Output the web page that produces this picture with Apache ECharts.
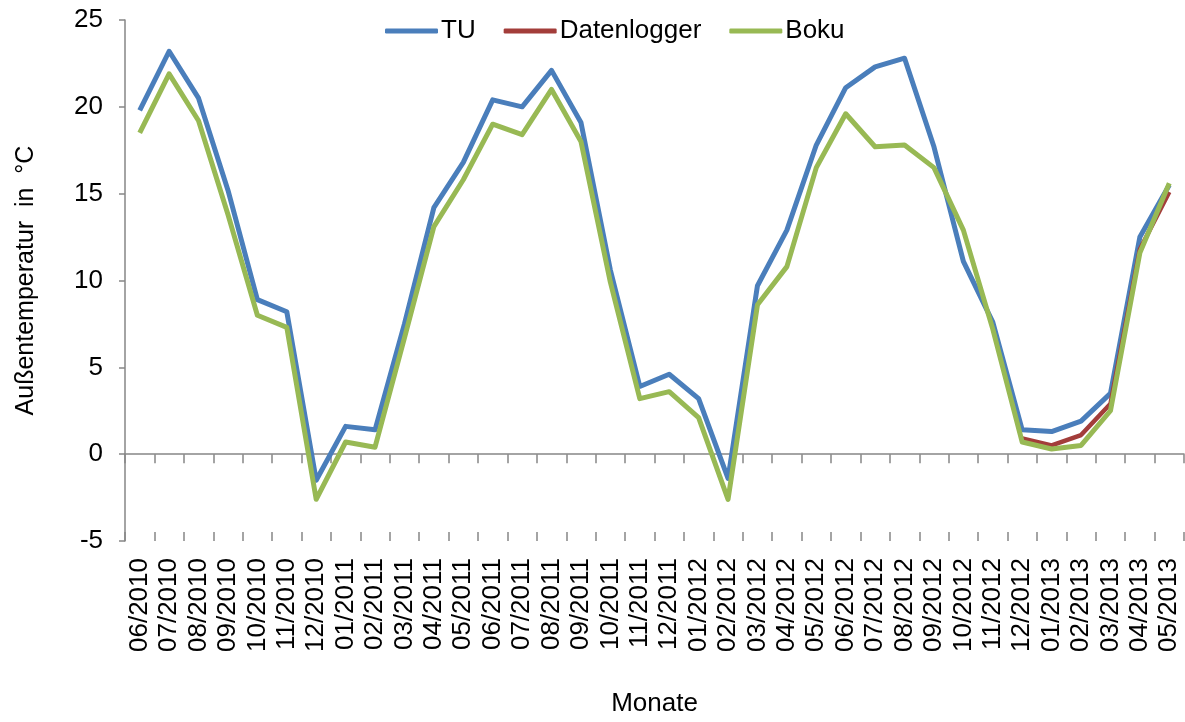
<!DOCTYPE html>
<html>
<head>
<meta charset="utf-8">
<script src="https://cdn.jsdelivr.net/npm/echarts@6/dist/echarts.min.js"></script>
<style>
  html, body { margin: 0; padding: 0; background: #fff; }
  #chart { width: 1185px; height: 722px; }
</style>
</head>
<body>
<div id="chart"></div>
<script>
const months = [
  '06/2010', '07/2010', '08/2010', '09/2010', '10/2010', '11/2010', '12/2010',
  '01/2011', '02/2011', '03/2011', '04/2011', '05/2011', '06/2011', '07/2011',
  '08/2011', '09/2011', '10/2011', '11/2011', '12/2011', '01/2012', '02/2012',
  '03/2012', '04/2012', '05/2012', '06/2012', '07/2012', '08/2012', '09/2012',
  '10/2012', '11/2012', '12/2012', '01/2013', '02/2013', '03/2013', '04/2013', '05/2013'
];

const tu = [
  19.8, 23.2, 20.5, 15.2, 8.9, 8.2, -1.5,
  1.6, 1.4, 7.5, 14.2, 16.8, 20.4, 20.0,
  22.1, 19.1, 10.6, 3.9, 4.6, 3.2, -1.4,
  9.7, 12.9, 17.8, 21.1, 22.3, 22.8, 17.7,
  11.1, 7.6, 1.4, 1.3, 1.9, 3.5, 12.5, 15.5
];

const datenlogger = [
  null, null, null, null, null, null, null,
  null, null, null, null, null, null, null,
  null, null, null, null, null, null, null,
  null, null, null, null, null, null, null,
  null, null, 0.9, 0.5, 1.1, 2.9, 11.8, 15.1
];

const boku = [
  18.5, 21.9, 19.2, 13.8, 8.0, 7.3, -2.6,
  0.7, 0.4, 6.7, 13.1, 15.8, 19.0, 18.4,
  21.0, 18.0, 9.9, 3.2, 3.6, 2.1, -2.6,
  8.6, 10.8, 16.5, 19.6, 17.7, 17.8, 16.5,
  12.9, 7.2, 0.7, 0.3, 0.5, 2.5, 11.6, 15.6
];

const yTicks = { min: -5, max: 25, step: 5 };

const font = 'Liberation Sans, Arial, sans-serif';
const axisGray = '#868686';

const chart = echarts.init(document.getElementById('chart'));

chart.setOption({
  backgroundColor: '#fff',
  animation: false,
  textStyle: { fontFamily: font, color: '#000' },
  legend: {
    left: 380,
    top: 13,
    itemWidth: 53,
    itemHeight: 5,
    itemGap: 28,
    icon: 'roundRect',
    textStyle: { fontSize: 26, color: '#000', fontFamily: font, padding: [0, 0, 0, -2] },
    data: ['TU', 'Datenlogger', 'Boku']
  },
  grid: { left: 125, right: 1, top: 20, bottom: 177, containLabel: false },
  xAxis: [
    {
      type: 'category',
      data: months,
      position: 'bottom',
      axisLine: { show: false, onZero: false },
      axisTick: { show: false },
      axisLabel: { rotate: 90, margin: 17, fontSize: 26, color: '#000', fontFamily: font, interval: 0 },
      name: 'Monate',
      nameLocation: 'middle',
      nameGap: 150,
      nameTextStyle: { fontSize: 26, color: '#000', fontFamily: font }
    },
    {
      type: 'category',
      data: months,
      position: 'bottom',
      axisLine: { show: true, onZero: true, lineStyle: { color: axisGray, width: 1.5 } },
      axisTick: { show: true, length: 9, inside: false, interval: 0, lineStyle: { color: axisGray, width: 1.5 } },
      axisLabel: { show: false }
    },
    {
      type: 'category',
      data: months,
      position: 'bottom',
      axisLine: { show: false, onZero: true },
      axisTick: { show: true, length: 9, inside: true, interval: 0, lineStyle: { color: axisGray, width: 1.5 } },
      axisLabel: { show: false }
    }
  ],
  yAxis: {
    type: 'value',
    min: yTicks.min,
    max: yTicks.max,
    interval: yTicks.step,
    splitLine: { show: false },
    axisLine: { show: true, lineStyle: { color: axisGray, width: 1.5 } },
    axisTick: { show: true, length: 6, lineStyle: { color: axisGray, width: 1.5 } },
    axisLabel: { fontSize: 26, color: '#000', fontFamily: font, margin: 22 },
    name: 'Außentemperatur  in  °C',
    nameLocation: 'middle',
    nameGap: 86,
    nameTextStyle: { fontSize: 25, color: '#000', fontFamily: font }
  },
  series: [
    {
      name: 'TU',
      type: 'line',
      data: tu,
      symbol: 'none',
      color: '#4A7EBB',
      lineStyle: { width: 5, color: '#4A7EBB', join: 'round' }
    },
    {
      name: 'Datenlogger',
      type: 'line',
      data: datenlogger,
      symbol: 'none',
      color: '#A33D3A',
      lineStyle: { width: 4.5, color: '#A33D3A', join: 'round' }
    },
    {
      name: 'Boku',
      type: 'line',
      data: boku,
      symbol: 'none',
      color: '#98B954',
      lineStyle: { width: 5, color: '#98B954', join: 'round' }
    }
  ]
});
</script>
</body>
</html>
